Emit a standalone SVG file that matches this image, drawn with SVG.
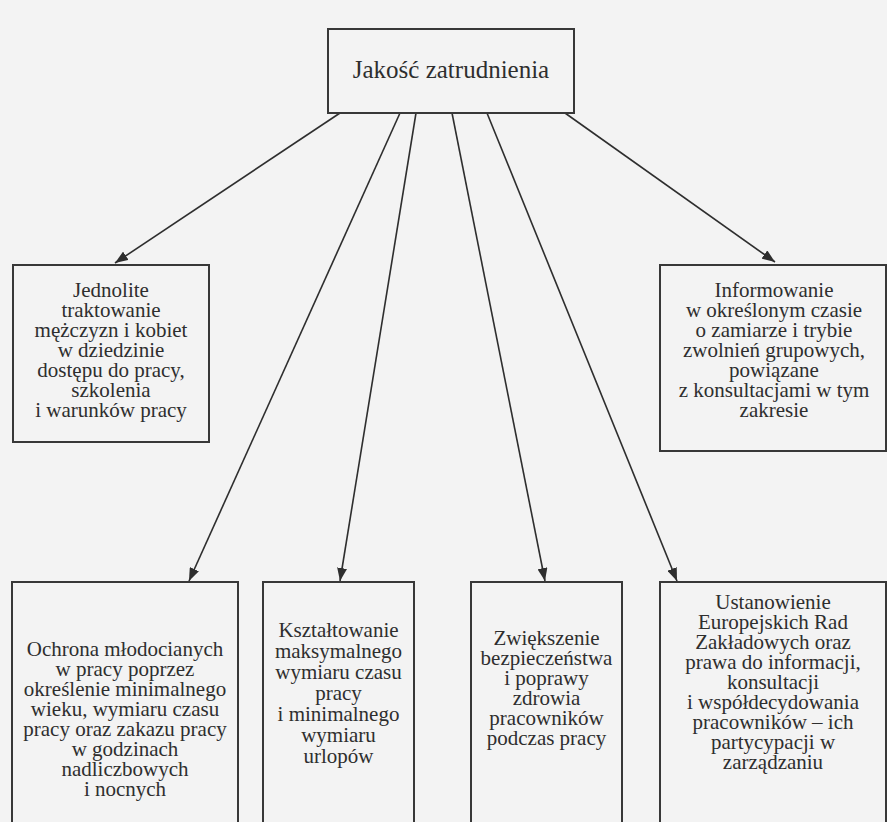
<svg xmlns="http://www.w3.org/2000/svg" width="887" height="822" viewBox="0 0 887 822">
<defs>
<marker id="ah" viewBox="0 0 13 10" refX="13" refY="5" markerWidth="13" markerHeight="10" markerUnits="userSpaceOnUse" orient="auto">
<path d="M0,0 L13,5 L0,10 z" fill="#2e2e2e"/>
</marker>
</defs>
<style>
.box{fill:none;stroke:#383838;stroke-width:2}
.t{font-family:"Liberation Serif","Times New Roman",serif;font-size:21px;fill:#2e2e2e;text-anchor:middle}
.title{font-size:25px}
.c{stroke:#2e2e2e;stroke-width:1.6;fill:none}
</style>
<rect width="887" height="822" fill="#f3f3f3"/>
<g id="connectors">
<line class="c" x1="340" y1="113" x2="115" y2="263" marker-end="url(#ah)"/>
<line class="c" x1="400" y1="113" x2="189" y2="581" marker-end="url(#ah)"/>
<line class="c" x1="416" y1="113" x2="340" y2="581" marker-end="url(#ah)"/>
<line class="c" x1="452" y1="113" x2="545" y2="581" marker-end="url(#ah)"/>
<line class="c" x1="487" y1="113" x2="677" y2="581" marker-end="url(#ah)"/>
<line class="c" x1="565" y1="113" x2="775" y2="262" marker-end="url(#ah)"/>
</g>
<g id="n0">
<rect class="box" x="328" y="29" width="246" height="84"/>
<text class="t title" x="451" y="78">Jakość zatrudnienia</text>
</g>
<g id="n1">
<rect class="box" x="13" y="265" width="196" height="177"/>
<text class="t" x="111"><tspan x="111" y="297">Jednolite</tspan><tspan x="111" y="317">traktowanie</tspan><tspan x="111" y="337">mężczyzn i kobiet</tspan><tspan x="111" y="357">w dziedzinie</tspan><tspan x="111" y="377">dostępu do pracy,</tspan><tspan x="111" y="397">szkolenia</tspan><tspan x="111" y="417">i warunków pracy</tspan></text>
</g>
<g id="n2">
<rect class="box" x="660" y="265" width="226" height="186"/>
<text class="t" x="774"><tspan x="774" y="297">Informowanie</tspan><tspan x="774" y="317">w określonym czasie</tspan><tspan x="774" y="337">o zamiarze i trybie</tspan><tspan x="774" y="357">zwolnień grupowych,</tspan><tspan x="774" y="377">powiązane</tspan><tspan x="774" y="397">z konsultacjami w tym</tspan><tspan x="774" y="417">zakresie</tspan></text>
</g>
<g id="n3">
<rect class="box" x="12" y="582" width="226" height="250"/>
<text class="t" x="125"><tspan x="125" y="656">Ochrona młodocianych</tspan><tspan x="125" y="676">w pracy poprzez</tspan><tspan x="125" y="696">określenie minimalnego</tspan><tspan x="125" y="716">wieku, wymiaru czasu</tspan><tspan x="125" y="736">pracy oraz zakazu pracy</tspan><tspan x="125" y="756">w godzinach</tspan><tspan x="125" y="776">nadliczbowych</tspan><tspan x="125" y="796">i nocnych</tspan></text>
</g>
<g id="n4">
<rect class="box" x="263" y="582" width="151" height="250"/>
<text class="t" x="338.5"><tspan x="338.5" y="637">Kształtowanie</tspan><tspan x="338.5" y="658">maksymalnego</tspan><tspan x="338.5" y="679">wymiaru czasu</tspan><tspan x="338.5" y="700">pracy</tspan><tspan x="338.5" y="721">i minimalnego</tspan><tspan x="338.5" y="742">wymiaru</tspan><tspan x="338.5" y="763">urlopów</tspan></text>
</g>
<g id="n5">
<rect class="box" x="471" y="582" width="151" height="250"/>
<text class="t" x="546.5"><tspan x="546.5" y="645">Zwiększenie</tspan><tspan x="546.5" y="665">bezpieczeństwa</tspan><tspan x="546.5" y="685">i poprawy</tspan><tspan x="546.5" y="705">zdrowia</tspan><tspan x="546.5" y="725">pracowników</tspan><tspan x="546.5" y="745">podczas pracy</tspan></text>
</g>
<g id="n6">
<rect class="box" x="660" y="582" width="226" height="250"/>
<text class="t" x="773"><tspan x="773" y="609">Ustanowienie</tspan><tspan x="773" y="629">Europejskich Rad</tspan><tspan x="773" y="649">Zakładowych oraz</tspan><tspan x="773" y="669">prawa do informacji,</tspan><tspan x="773" y="689">konsultacji</tspan><tspan x="773" y="709">i współdecydowania</tspan><tspan x="773" y="729">pracowników – ich</tspan><tspan x="773" y="749">partycypacji w</tspan><tspan x="773" y="769">zarządzaniu</tspan></text>
</g>
</svg>
